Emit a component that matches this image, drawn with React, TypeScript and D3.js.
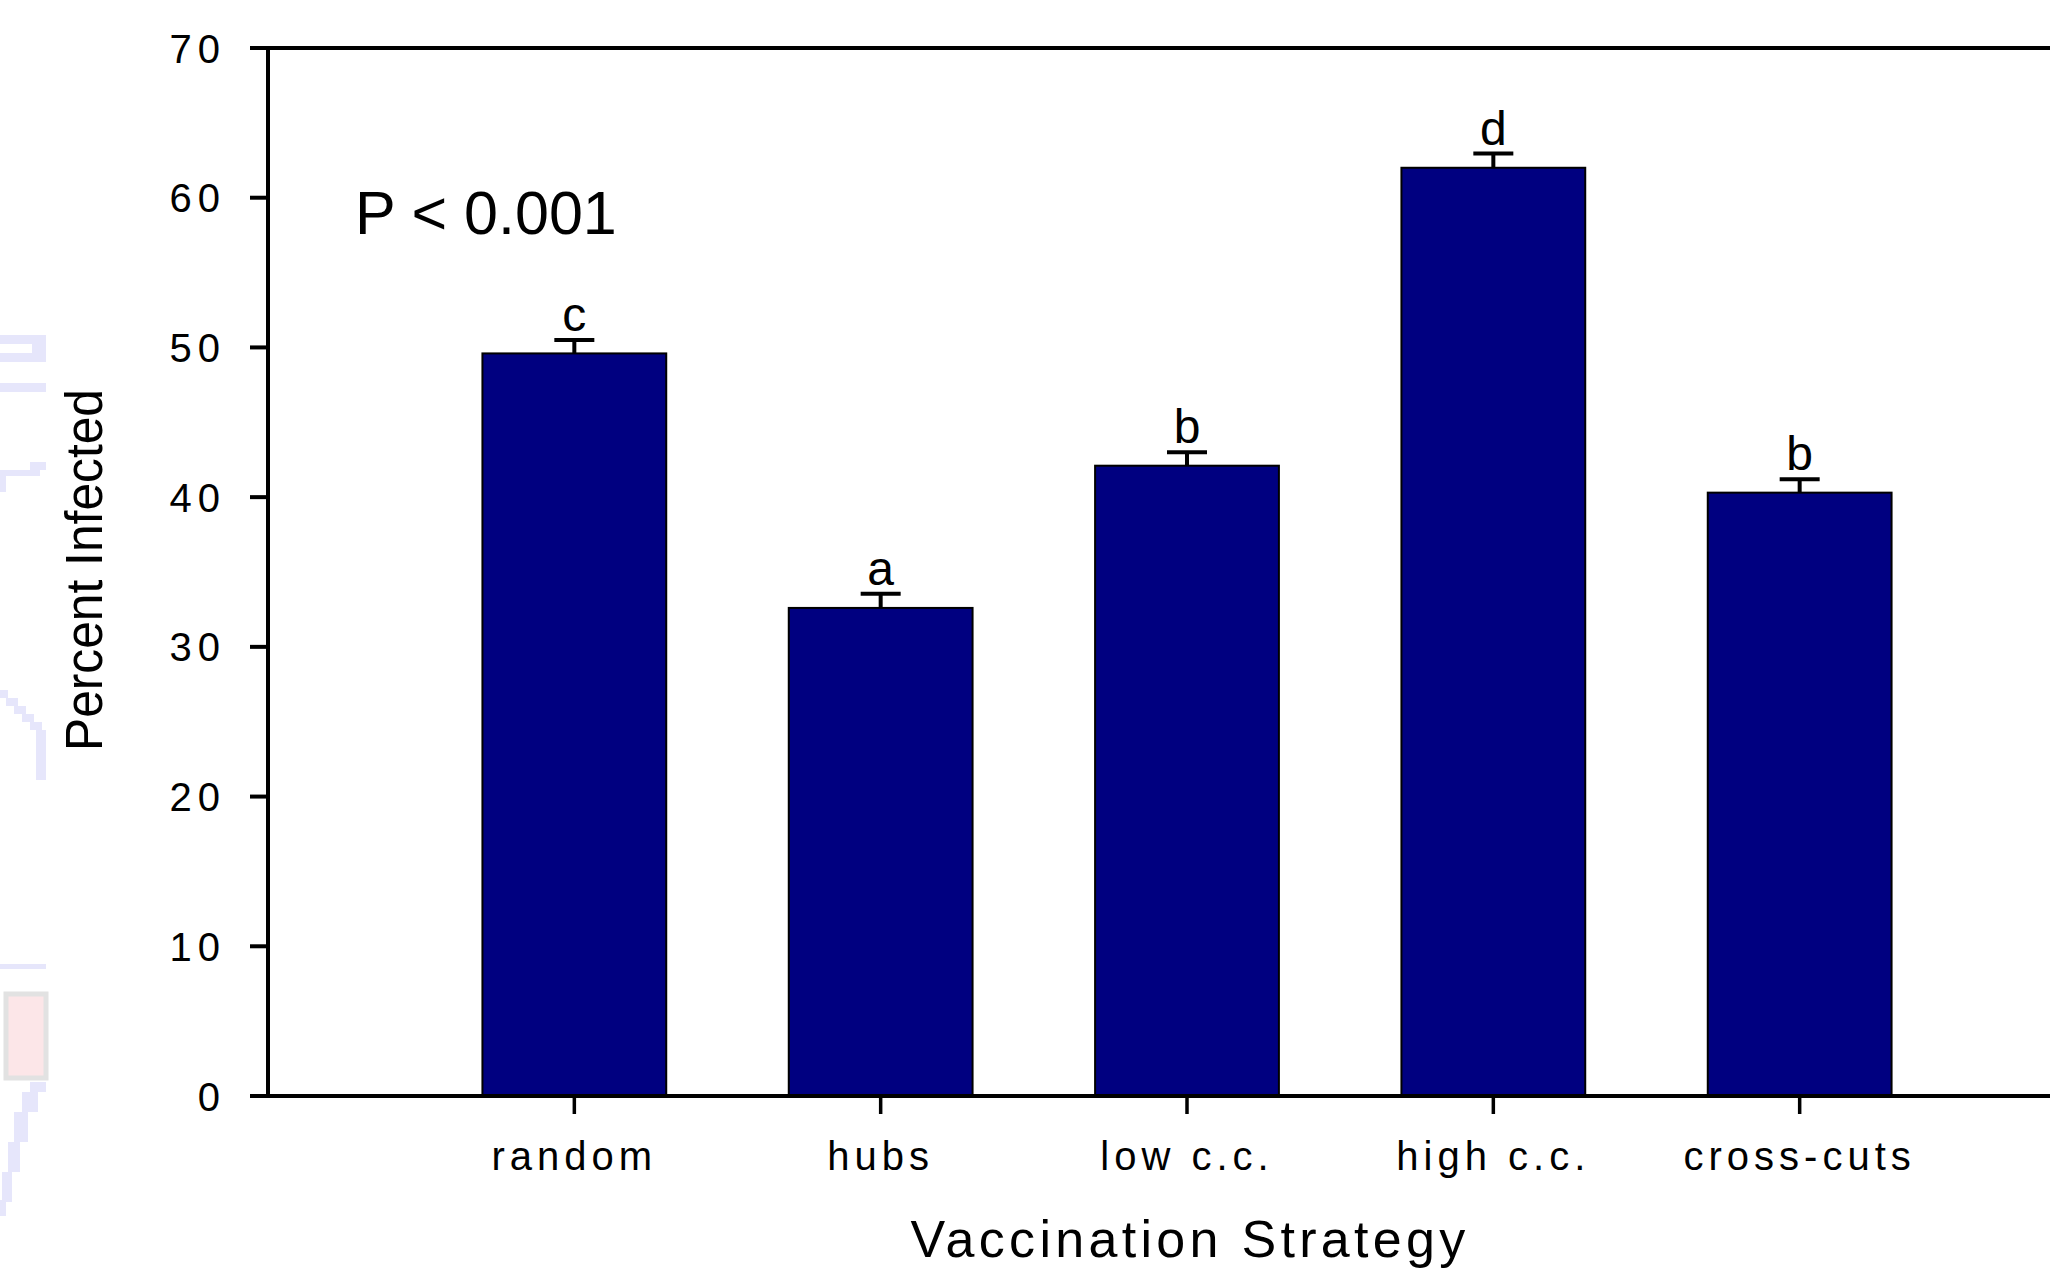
import React, { useEffect } from 'react';
import * as d3 from 'd3';

// Mean percent infected per vaccination strategy, with standard errors
const categories: string[] = ['random', 'hubs', 'low c.c.', 'high c.c.', 'cross-cuts'];
const means: number[] = [49.6, 32.6, 42.1, 62.0, 40.3];
const errors: number[] = [0.9, 0.95, 0.9, 0.95, 0.9];
const groupLetters: string[] = ['c', 'a', 'b', 'd', 'b'];
const yTicks: number[] = [0, 10, 20, 30, 40, 50, 60, 70];
const pLabel = 'P < 0.001';

const W = 2050;
const H = 1273;
const FONT = "'Liberation Sans', Arial, Helvetica, sans-serif";
const NAVY = '#000080';

// faint pixel-art motif along the left margin
const motifLavender: [number, number, number, number][] = [
  [0, 335, 46, 9], [32, 335, 14, 27], [0, 353, 46, 9], [0, 383, 46, 9],
  [0, 470, 40, 6], [30, 462, 16, 8], [0, 470, 6, 22],
  [0, 690, 8, 8], [6, 698, 12, 8], [14, 706, 12, 8], [22, 714, 12, 8], [30, 722, 12, 8], [36, 730, 10, 50],
  [0, 964, 46, 5],
  [30, 1082, 16, 10], [22, 1092, 16, 20], [14, 1112, 14, 30], [8, 1142, 12, 30], [2, 1172, 10, 30], [0, 1200, 6, 16],
];

export default function App() {
  useEffect(() => {
    document.body.style.margin = '0';
  }, []);

  const x = d3
    .scaleBand<string>()
    .domain(categories)
    .range([268, 2106])
    .paddingInner(0.4)
    .paddingOuter(0.7);
  const y = d3.scaleLinear().domain([0, 70]).range([1096, 48]);

  const x0 = 268;
  const yTop = y(70);
  const yBase = y(0);
  const bw = x.bandwidth();

  return (
    <svg width={W} height={H} style={{ display: 'block', background: '#fff' }} fontFamily={FONT}>
      <rect x={0} y={0} width={W} height={H} fill="#fff" />

      {/* margin motif */}
      <g>
        {motifLavender.map(([mx, my, mw, mh], i) => (
          <rect key={`m${i}`} x={mx} y={my} width={mw} height={mh} fill="#e6e6fb" />
        ))}
        <rect x={6} y={994} width={40} height={84} fill="#fce6e8" stroke="#e2e2e2" strokeWidth={5} />
      </g>

      {/* bars */}
      {categories.map((c, i) => (
        <rect
          key={`bar-${c}`}
          x={x(c)}
          y={y(means[i])}
          width={bw}
          height={yBase - y(means[i])}
          fill={NAVY}
          stroke="#000"
          strokeWidth={2}
        />
      ))}

      {/* error bars (upper) */}
      {categories.map((c, i) => {
        const cx = (x(c) as number) + bw / 2;
        const yt = y(means[i] + errors[i]);
        return (
          <g key={`err-${c}`} stroke="#000" strokeWidth={4}>
            <line x1={cx} x2={cx} y1={y(means[i])} y2={yt} />
            <line x1={cx - 20} x2={cx + 20} y1={yt} y2={yt} />
          </g>
        );
      })}

      {/* significance group letters */}
      {categories.map((c, i) => {
        const cx = (x(c) as number) + bw / 2;
        const yt = y(means[i] + errors[i]);
        return (
          <text key={`lt-${c}`} x={cx} y={yt - 9} textAnchor="middle" fontSize={48} fill="#000">
            {groupLetters[i]}
          </text>
        );
      })}

      {/* frame lines */}
      <line x1={250} x2={W} y1={yTop} y2={yTop} stroke="#000" strokeWidth={4} />
      <line x1={250} x2={W} y1={yBase} y2={yBase} stroke="#000" strokeWidth={4} />
      <line x1={x0} x2={x0} y1={yTop - 2} y2={yBase + 2} stroke="#000" strokeWidth={4} />

      {/* y ticks */}
      {yTicks.map((t) => (
        <g key={`yt-${t}`}>
          <line x1={250} x2={x0} y1={y(t)} y2={y(t)} stroke="#000" strokeWidth={4} />
          <text
            x={226}
            y={y(t) + 14.5}
            textAnchor="end"
            fontSize={40}
            letterSpacing={6}
            fill="#000"
          >
            {t}
          </text>
        </g>
      ))}

      {/* x ticks */}
      {categories.map((c) => {
        const cx = (x(c) as number) + bw / 2;
        return (
          <g key={`xt-${c}`}>
            <line x1={cx} x2={cx} y1={yBase} y2={yBase + 18} stroke="#000" strokeWidth={3.5} />
            <text x={cx} y={1170} textAnchor="middle" fontSize={40} letterSpacing={5} fill="#000">
              {c}
            </text>
          </g>
        );
      })}

      {/* axis titles */}
      <text
        transform={`translate(102, 570) rotate(-90)`}
        textAnchor="middle"
        fontSize={51}
        textLength={362}
        lengthAdjust="spacingAndGlyphs"
        fill="#000"
      >
        Percent Infected
      </text>
      <text x={1190} y={1257} textAnchor="middle" fontSize={52} letterSpacing={4.3} fill="#000">
        Vaccination Strategy
      </text>

      {/* overall test result */}
      <text x={355} y={234} fontSize={61} fill="#000">
        {pLabel}
      </text>
    </svg>
  );
}
